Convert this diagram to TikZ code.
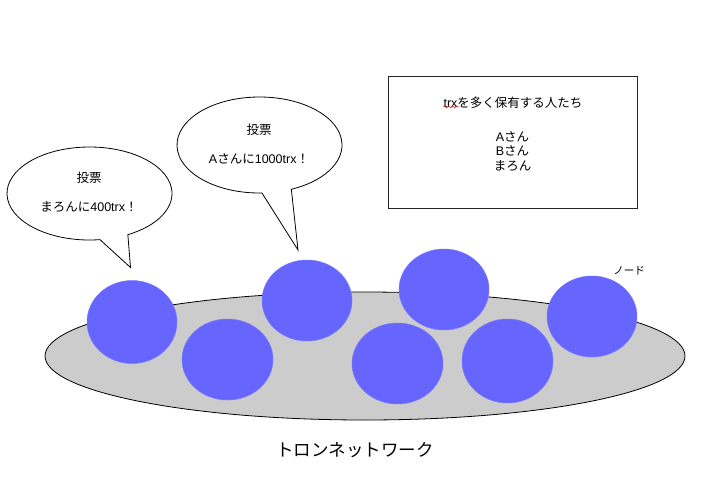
\documentclass[tikz,border=0pt]{standalone}
\usepackage{fontspec}
\setmainfont{Liberation Sans}
\newfontfamily\cjk{Noto Sans CJK JP}
\usetikzlibrary{decorations.pathmorphing}
\definecolor{nodeblue}{HTML}{6666FF}
\definecolor{nodeedge}{HTML}{7878FF}
\definecolor{platform}{HTML}{CCCCCC}
\tikzset{
  peer/.style={fill=nodeblue, draw=nodeedge, line width=0.5pt},
  bubble/.style={fill=white, draw=black, line width=0.8pt, line join=miter},
  txt/.style={inner sep=0pt, font=\fontsize{12.5}{15}\selectfont},
}
\begin{document}
\begin{tikzpicture}[x=1pt,y=-1pt]
\useasboundingbox (0,0) rectangle (703,482);
% platform
\draw[fill=platform, draw=black, line width=0.8pt] (365,356) ellipse [x radius=320, y radius=64];
% peers
\fill[peer] (132,322) ellipse [x radius=45, y radius=41.5];
\fill[peer] (227.5,359.5) ellipse [x radius=45.5, y radius=40.5];
\fill[peer] (307,300.5) ellipse [x radius=45, y radius=40.5];
\fill[peer] (444,289.5) ellipse [x radius=45, y radius=40.5];
\fill[peer] (397.5,363.5) ellipse [x radius=45.5, y radius=40.5];
\fill[peer] (507.5,361) ellipse [x radius=45.5, y radius=42];
\fill[peer] (592,316.5) ellipse [x radius=45, y radius=40.5];
\node[inner sep=0pt, text=black, font=\fontsize{10.5}{12}\selectfont\cjk] (lbl) at (629,271) {ノード};
% bubble 1
\draw[bubble] ([shift={(89.5,193.5)}]82.7:82.5 and 46.5)
  arc[start angle=82.7, end angle=422.3, x radius=82.5, y radius=46.5]
  -- (130.5,267.5) -- cycle;
\node[txt] (v1a) at (89,178) {\cjk 投票};
\node[txt] (v1b) at (89,207) {{\cjk まろんに}400trx{\cjk ！}};
% bubble 2
\draw[bubble] ([shift={(259.5,145)}]88.3:82.5 and 48)
  arc[start angle=88.3, end angle=427.3, x radius=82.5, y radius=48]
  -- (298,250) -- cycle;
\node[txt] (v2a) at (259,130) {\cjk 投票};
\node[txt] (v2b) at (259,159) {A{\cjk さんに}1000trx{\cjk ！}};
% box
\draw[draw=black!85, line width=0.8pt] (388.5,76) rectangle (637.5,208);
\node[txt] (h) at (513,103) {trx{\cjk を多く保有する人たち}};
\node[txt, align=center, font=\fontsize{12.5}{14.5}\selectfont] (names) at (512.5,151) {A{\cjk さん}\\B{\cjk さん}\\{\cjk まろん}};
\draw[red, line width=0.5pt, decorate, decoration={snake, amplitude=1pt, segment length=4pt}] (h.south west) ++(0,-2) -- ++(16,0);
% title
\node[inner sep=0pt, font=\fontsize{17.5}{20}\selectfont\cjk] (title) at (355,450) {トロンネットワーク};
\end{tikzpicture}
\end{document}
